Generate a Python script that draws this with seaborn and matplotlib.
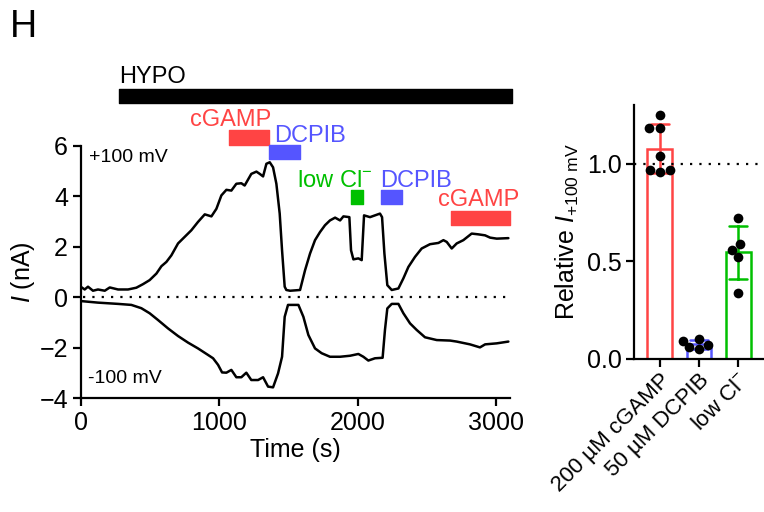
import numpy as np
import pandas as pd
import matplotlib
matplotlib.use('Agg')
from matplotlib import pyplot as plt
import seaborn as sns

# whole-cell current trace at +100 mV (time in s, current in nA)
t_pos = [1, 30, 54, 90, 126, 175, 211, 271, 343, 403, 451, 499, 548, 584, 620, 656, 704, 752,
         800, 848, 897, 945, 981, 1017, 1053, 1089, 1125, 1161, 1185, 1233, 1270, 1294, 1318,
         1342, 1366, 1390, 1414, 1438, 1455, 1474, 1486, 1513, 1585, 1621, 1657, 1693, 1729,
         1765, 1801, 1838, 1874, 1898, 1941, 1953, 1970, 2006, 2030, 2047, 2090, 2126, 2162,
         2177, 2194, 2215, 2247, 2295, 2331, 2367, 2415, 2463, 2523, 2584, 2620, 2644, 2680,
         2716, 2764, 2824, 2872, 2921, 2957, 3005, 3089]
i_pos = [0.42, 0.31, 0.42, 0.26, 0.31, 0.26, 0.39, 0.31, 0.31, 0.38, 0.52, 0.68, 0.94, 1.23,
         1.40, 1.66, 2.13, 2.39, 2.65, 2.98, 3.28, 3.20, 3.50, 4.03, 4.25, 4.22, 4.49, 4.51,
         4.42, 4.88, 4.97, 4.88, 4.78, 5.28, 5.34, 5.14, 4.49, 3.31, 1.86, 0.42, 0.29, 0.26,
         0.29, 1.07, 1.73, 2.26, 2.58, 2.85, 3.04, 3.15, 3.04, 3.20, 3.17, 1.86, 1.50, 1.54,
         1.47, 3.24, 3.17, 3.24, 3.31, 3.17, 1.73, 0.48, 0.29, 0.35, 0.75, 1.20, 1.60, 1.93,
         2.10, 2.15, 2.26, 2.19, 1.93, 2.13, 2.26, 2.52, 2.49, 2.45, 2.36, 2.32, 2.34]

# trace at -100 mV
t_neg = [6, 126, 271, 367, 439, 499, 560, 632, 704, 776, 848, 921, 957, 993, 1022, 1053, 1089,
         1125, 1161, 1197, 1233, 1282, 1318, 1354, 1390, 1426, 1455, 1474, 1498, 1573, 1609,
         1645, 1693, 1741, 1801, 1874, 1946, 2006, 2042, 2078, 2126, 2181, 2198, 2215, 2247,
         2295, 2331, 2379, 2427, 2487, 2572, 2668, 2716, 2812, 2884, 2921, 3005, 3089]
i_neg = [-0.15, -0.21, -0.26, -0.30, -0.43, -0.63, -0.90, -1.23, -1.53, -1.79, -2.02, -2.28,
         -2.41, -2.67, -2.97, -2.98, -2.87, -3.16, -3.16, -2.98, -3.27, -3.27, -3.16, -3.53,
         -3.56, -3.01, -2.35, -0.77, -0.30, -0.30, -0.77, -1.49, -2.02, -2.21, -2.35, -2.35,
         -2.31, -2.24, -2.35, -2.50, -2.41, -2.39, -1.29, -0.44, -0.26, -0.26, -0.63, -1.03,
         -1.29, -1.58, -1.69, -1.71, -1.75, -1.86, -1.98, -1.86, -1.82, -1.75]

# application periods (s)
hypo_start, hypo_end = 280, 3113
trt_names = ['cGAMP', 'DCPIB', 'low Cl$^{-}$', 'DCPIB', 'cGAMP']
trt_start = [1071, 1363, 1951, 2167, 2677]
trt_end = [1363, 1582, 2037, 2323, 3100]

# summary: relative current at +100 mV
groups = ['200 µM cGAMP', '50 µM DCPIB', 'low Cl$^{-}$']
rel_cgamp = [1.25, 1.18, 1.18, 1.04, 0.965, 0.957, 0.965]
rel_dcpib = [0.10, 0.09, 0.07, 0.06, 0.05]
rel_lowcl = [0.72, 0.588, 0.558, 0.52, 0.339]

red, blue, green = '#FF4444', '#5555FF', '#00C000'
trt_colors = [red, blue, green, blue, red]
grp_colors = [red, blue, green]

sns.set_style('ticks')
plt.rcParams['font.family'] = ['Liberation Sans', 'DejaVu Sans']
plt.rcParams['mathtext.fontset'] = 'custom'
plt.rcParams['mathtext.rm'] = 'Liberation Sans'
plt.rcParams['mathtext.it'] = 'Liberation Sans:italic'
for k in ['text.color', 'axes.labelcolor', 'xtick.color', 'ytick.color', 'axes.edgecolor']:
    plt.rcParams[k] = 'black'
plt.rcParams['axes.linewidth'] = 1.6
plt.rcParams['xtick.major.width'] = 1.6
plt.rcParams['ytick.major.width'] = 1.6
plt.rcParams['xtick.major.size'] = 6
plt.rcParams['ytick.major.size'] = 6

fig = plt.figure(figsize=(7.64, 5.12), dpi=100)
ax = fig.add_axes([0.1054, 0.2217, 0.562, 0.494])
ax2 = fig.add_axes([0.830, 0.299, 0.175, 0.496])

# ---- left: time course
df_pos = pd.DataFrame({'t': t_pos, 'I': i_pos})
df_neg = pd.DataFrame({'t': t_neg, 'I': i_neg})
sns.lineplot(data=df_pos, x='t', y='I', color='black', lw=1.8, estimator=None, sort=False, ax=ax)
sns.lineplot(data=df_neg, x='t', y='I', color='black', lw=1.8, estimator=None, sort=False, ax=ax)
ax.axhline(0, color='black', ls=(0, (1, 3.2)), lw=1.6, xmin=0.005, xmax=0.99)

ax.set_xlim(0, 3100)
ax.set_ylim(-4, 6)
ax.set_xticks([0, 1000, 2000, 3000])
ax.set_yticks([-4, -2, 0, 2, 4, 6])
ax.tick_params(labelsize=18, pad=3)
ax.set_xlabel('Time (s)', fontsize=18, labelpad=2)
ax.set_ylabel('$\\it{I}$ (nA)', fontsize=18, labelpad=2)
sns.despine(ax=ax)

ax.text(61, 5.54, '+100 mV', fontsize=14, va='center')
ax.text(56, -3.2, '-100 mV', fontsize=14, va='center')

# HYPO bar
ax.broken_barh([(hypo_start, hypo_end - hypo_start)], (7.67, 0.56), color='black', clip_on=False)
ax.text(hypo_start, 8.49, 'HYPO', fontsize=17, va='baseline', ha='left')

# treatment bars and labels
bar_y = [6.04, 5.45, 3.70, 3.70, 2.85]
txt_pos = [(1375, 6.79, 'right'), (1399, 6.13, 'left'), (2105, 4.38, 'right'),
           (2165, 4.38, 'left'), (2871, 3.60, 'center')]
for name, s, e, c, y, (tx, ty, ha) in zip(trt_names, trt_start, trt_end, trt_colors, bar_y, txt_pos):
    ax.broken_barh([(s, e - s)], (y, 0.56), color=c, clip_on=False)
    ax.text(tx, ty, name, color=c, fontsize=17, ha=ha, va='baseline')

# ---- right: summary bars
df_rel = pd.DataFrame({
    'group': [groups[0]] * len(rel_cgamp) + [groups[1]] * len(rel_dcpib) + [groups[2]] * len(rel_lowcl),
    'rel': rel_cgamp + rel_dcpib + rel_lowcl,
})
for g, c in zip(groups, grp_colors):
    sns.barplot(data=df_rel[df_rel['group'] == g], x='group', y='rel', order=groups,
                errorbar='sd', capsize=0.45, fill=False, color=c, width=0.62,
                linewidth=1.8, err_kws={'color': c, 'linewidth': 1.8}, ax=ax2)
sns.swarmplot(data=df_rel, x='group', y='rel', order=groups, color='black', size=7, ax=ax2)
ax2.axhline(1.0, color='black', ls=(0, (1, 3.2)), lw=1.6)
ax2.set_xlim(-0.65, 2.75)
ax2.set_ylim(0, 1.3)
ax2.set_yticks([0, 0.5, 1.0])
ax2.set_yticklabels(['0.0', '0.5', '1.0'])
ax2.tick_params(axis='y', labelsize=18, pad=3)
ax2.tick_params(axis='x', labelsize=16, pad=2)
plt.setp(ax2.get_xticklabels(), rotation=45, ha='right', rotation_mode='anchor')
ax2.set_xlabel('')
ax2.set_ylabel('Relative $\\it{I}_{\\rm{+100\\ mV}}$', fontsize=18, labelpad=4)
sns.despine(ax=ax2)

fig.text(0.013, 0.928, 'H', fontsize=27, ha='left', va='baseline')

fig.savefig('out.png', dpi=100)
